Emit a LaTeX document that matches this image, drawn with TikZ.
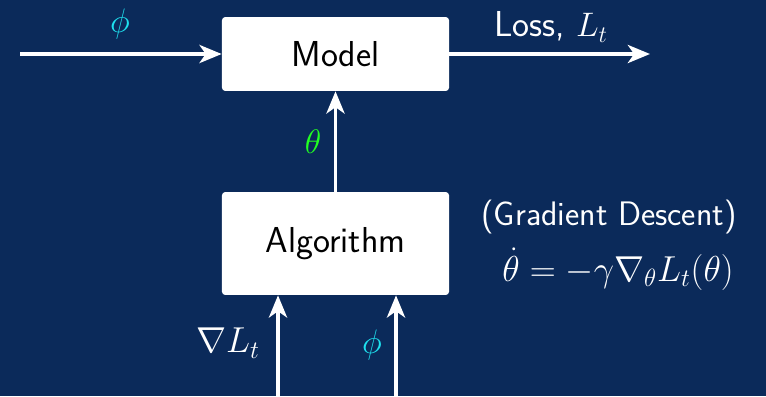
\documentclass[tikz,border=0pt]{standalone}
\usepackage{graphicx}
\usetikzlibrary{arrows.meta}
\definecolor{bgnavy}{HTML}{0B2A5A}
\definecolor{phicyan}{HTML}{1EE0EE}
\definecolor{thetagreen}{HTML}{22FF22}
\newcommand{\boxfont}{\fontsize{22}{26}\selectfont\sffamily}
\tikzset{
  block/.style={fill=white, rounded corners=2pt, minimum width=138.5pt, font=\boxfont, text=black},
  flow/.style={draw=white, line width=2.4pt, -{Stealth[length=13.5pt, width=11pt, inset=3.8pt]}},
  lbl/.style={font=\huge, text=white, inner sep=0pt}
}
\begin{document}
\begin{tikzpicture}[x=0.61pt, y=-0.61pt]
  \fill[bgnavy] (0,0) rectangle (766,396);
  \useasboundingbox (0,0) rectangle (766,396);

  % blocks
  \node[block, minimum height=45.1pt] (model) at (335.5,54) {Model};
  \node[block, minimum height=62.8pt] (algo) at (335.5,243.5) {Algorithm};

  % free ends
  \coordinate (in) at (20,54);
  \coordinate (out) at (650,54);
  \coordinate (gin) at (278,396);
  \coordinate (pin) at (396,396);

  % connectors
  \draw[flow] (in) -- (model.west);
  \draw[flow] (model.east) -- (out);
  \draw[flow] (algo.north) -- (model.south);
  \draw[flow] (gin) -- (gin |- algo.south);
  \draw[flow] (pin) -- (pin |- algo.south);

  % labels
  \node[lbl, text=phicyan] (phitop) at (120,24) {$\phi$};
  \node[lbl, font=\boxfont] (loss) at (551,27) {Loss, $L_t$};
  \node[lbl, text=thetagreen] (theta) at (313,142) {$\theta$};
  \node[lbl] (grad) at (228,343) {\scalebox{1.06}{$\nabla L_t$}};
  \node[lbl, text=phicyan] (phibot) at (372,345) {$\phi$};
  \node[lbl] (gd) at (609,217) {\sffamily (Gradient Descent)};
  \node[lbl] (eq) at (618,269) {\scalebox{1.06}{$\dot\theta = -\gamma\nabla_\theta L_t(\theta)$}};
\end{tikzpicture}
\end{document}
